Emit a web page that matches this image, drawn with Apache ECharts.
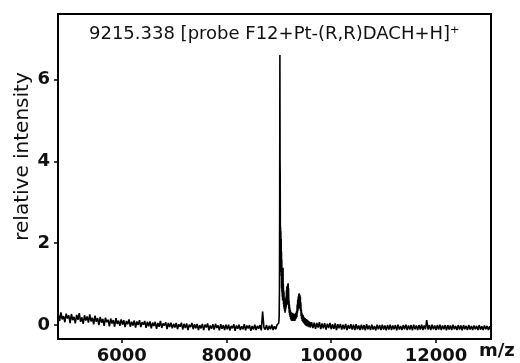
<!DOCTYPE html>
<html>
<head>
<meta charset="utf-8">
<script src="https://cdn.jsdelivr.net/npm/echarts@6/dist/echarts.min.js"></script>
<style>
  html, body { margin: 0; padding: 0; background: #fff; }
  #chart { width: 520px; height: 363px; }
</style>
</head>
<body>
<div id="chart"></div>
<script>
// spectrum, [m/z, relative intensity]
const lowMassNoise = [
  [4790, 0.26], [4815, 0.10], [4840, 0.31], [4865, 0.14], [4890, 0.22], [4915, 0.07], [4940, 0.28], [4965, 0.16],
  [4990, 0.24], [5015, 0.05], [5040, 0.27], [5065, 0.12], [5090, 0.20], [5115, 0.04], [5140, 0.25], [5165, 0.13],
  [5190, 0.29], [5215, 0.08], [5240, 0.19], [5265, 0.03], [5290, 0.24], [5315, 0.11], [5340, 0.21], [5365, 0.06],
  [5390, 0.26], [5415, 0.09], [5440, 0.18], [5465, 0.02], [5490, 0.23], [5515, 0.08], [5540, 0.17], [5565, 0.00],
  [5590, 0.20], [5615, 0.06], [5640, 0.15], [5665, -0.02], [5690, 0.18], [5715, 0.07], [5740, 0.13], [5765, -0.03],
  [5790, 0.16], [5815, 0.04], [5840, 0.12], [5865, -0.04], [5890, 0.17], [5915, 0.03], [5940, 0.11], [5965, -0.02],
  [5990, 0.14], [6015, 0.01], [6040, 0.12], [6065, -0.05], [6090, 0.10], [6115, 0.02], [6140, 0.14], [6165, -0.04],
  [6190, 0.08], [6215, -0.01], [6240, 0.11], [6265, -0.06], [6290, 0.09], [6315, 0.00], [6340, 0.12], [6365, -0.05],
  [6390, 0.07], [6415, 0.01], [6440, 0.10], [6465, -0.07], [6490, 0.08], [6515, -0.03], [6540, 0.09], [6565, -0.08],
  [6590, 0.06], [6615, -0.02], [6640, 0.08], [6665, -0.09], [6690, 0.05], [6715, -0.04], [6740, 0.10], [6765, -0.07],
  [6790, 0.04], [6815, -0.01], [6840, 0.07], [6865, -0.10], [6890, 0.05], [6915, -0.05], [6940, 0.06], [6965, -0.08],
  [6990, 0.03], [7015, -0.06], [7040, 0.05], [7065, -0.10], [7090, 0.02], [7115, -0.04], [7140, 0.06], [7165, -0.11],
  [7190, 0.03], [7215, -0.07], [7240, 0.04], [7265, -0.12], [7290, 0.01], [7315, -0.05], [7340, 0.05], [7365, -0.10],
  [7390, 0.02], [7415, -0.08], [7440, 0.03], [7465, -0.12], [7490, 0.00], [7515, -0.08], [7540, 0.03], [7565, -0.12],
  [7590, 0.01], [7615, -0.06], [7640, 0.04], [7665, -0.13], [7690, -0.01], [7715, -0.09], [7740, 0.02], [7765, -0.11],
  [7790, 0.03], [7815, -0.07], [7840, -0.01], [7865, -0.13], [7890, 0.02], [7915, -0.09], [7940, 0.00], [7965, -0.12],
  [7990, 0.01], [8015, -0.10], [8040, 0.01], [8065, -0.13], [8090, -0.02], [8115, -0.08], [8140, 0.02], [8165, -0.14],
  [8190, -0.01], [8215, -0.09], [8240, 0.01], [8265, -0.12], [8290, -0.03], [8315, -0.10], [8340, 0.02], [8365, -0.13],
  [8390, -0.01], [8415, -0.08], [8440, 0.00], [8465, -0.14], [8490, -0.02], [8515, -0.11], [8540, 0.01], [8565, -0.12],
  [8590, -0.02], [8615, -0.09], [8640, 0.00], [8665, -0.13], [8690, 0.33], [8715, -0.06], [8740, -0.11], [8765, 0.00],
  [8790, -0.12], [8815, -0.02], [8840, -0.10], [8865, 0.01], [8890, -0.12], [8915, -0.03], [8940, -0.10], [8965, 0.00]
]

const mainPeak = [
  [8988, -0.03], [8998, 0.05], [9006, 0.2], [9012, 0.9], [9016, 3.0], [9020, 6.6], [9023, 4.0], [9026, 3.6],
  [9029, 2.0], [9032, 2.4], [9035, 1.5], [9038, 2.3], [9041, 1.3], [9044, 2.1], [9047, 1.2], [9050, 1.8],
  [9053, 0.9], [9056, 1.6], [9059, 0.8], [9062, 1.3], [9065, 0.7], [9068, 1.2], [9071, 0.6], [9074, 1.1],
  [9077, 0.7], [9080, 1.4], [9083, 0.65], [9086, 1.0], [9089, 0.5], [9092, 0.85], [9095, 0.45], [9098, 0.8],
  [9102, 0.4], [9106, 0.65], [9110, 0.35], [9114, 0.6], [9118, 0.3], [9122, 0.55], [9126, 0.35], [9130, 0.6],
  [9134, 0.4], [9138, 0.7], [9142, 0.45], [9146, 0.85], [9150, 0.5], [9154, 0.95], [9158, 0.55], [9162, 0.9],
  [9166, 0.5], [9170, 1.0], [9174, 0.6], [9178, 1.02], [9182, 0.55], [9186, 0.9], [9190, 0.4], [9194, 0.6],
  [9198, 0.3], [9202, 0.5], [9206, 0.25], [9210, 0.42], [9215, 0.2], [9220, 0.36], [9225, 0.15], [9230, 0.32],
  [9235, 0.12], [9240, 0.3], [9245, 0.1], [9250, 0.28], [9255, 0.12], [9260, 0.3], [9265, 0.1], [9270, 0.26],
  [9275, 0.12], [9280, 0.28], [9285, 0.1], [9290, 0.25], [9295, 0.12], [9300, 0.27], [9305, 0.1], [9310, 0.24],
  [9315, 0.14], [9320, 0.3], [9325, 0.15], [9330, 0.28], [9335, 0.18], [9340, 0.35], [9345, 0.2], [9350, 0.5],
  [9355, 0.3], [9360, 0.62], [9365, 0.35], [9370, 0.7], [9375, 0.4], [9380, 0.76], [9385, 0.42], [9390, 0.78],
  [9395, 0.45], [9400, 0.74], [9405, 0.4], [9410, 0.7], [9415, 0.35], [9420, 0.55], [9425, 0.22], [9430, 0.38],
  [9435, 0.15], [9440, 0.3], [9446, 0.1], [9452, 0.26], [9458, 0.08], [9464, 0.24], [9470, 0.06], [9476, 0.2],
  [9482, 0.04], [9488, 0.18], [9494, 0.02], [9500, 0.17], [9508, 0.0], [9516, 0.15], [9524, -0.02], [9532, 0.14],
  [9540, -0.03], [9550, 0.12], [9560, -0.04], [9570, 0.1], [9580, -0.05], [9590, 0.08], [9600, -0.06]
]

const highMassNoise = [
  [9625, 0.07], [9650, -0.07], [9675, 0.06], [9700, -0.09], [9725, 0.05], [9750, -0.06], [9775, 0.07], [9800, -0.10],
  [9825, 0.04], [9850, -0.08], [9875, 0.05], [9900, -0.11], [9925, 0.03], [9950, -0.07], [9975, 0.05], [10000, -0.10],
  [10025, 0.02], [10050, -0.09], [10075, 0.04], [10100, -0.12], [10125, 0.02], [10150, -0.08], [10175, 0.03], [10200, -0.11],
  [10225, 0.01], [10250, -0.10], [10275, 0.03], [10300, -0.12], [10325, 0.00], [10350, -0.09], [10375, 0.02], [10400, -0.11],
  [10425, 0.01], [10450, -0.12], [10475, 0.02], [10500, -0.10], [10525, -0.01], [10550, -0.12], [10575, 0.01], [10600, -0.11],
  [10625, 0.00], [10650, -0.13], [10675, 0.02], [10700, -0.10], [10725, -0.01], [10750, -0.12], [10775, 0.01], [10800, -0.11],
  [10825, -0.02], [10850, -0.13], [10875, 0.01], [10900, -0.10], [10925, 0.00], [10950, -0.12], [10975, 0.01], [11000, -0.11],
  [11025, -0.01], [11050, -0.13], [11075, 0.00], [11100, -0.11], [11125, 0.01], [11150, -0.12], [11175, -0.01], [11200, -0.10],
  [11225, 0.00], [11250, -0.13], [11275, 0.01], [11300, -0.11], [11325, -0.02], [11350, -0.12], [11375, 0.00], [11400, -0.10],
  [11425, 0.01], [11450, -0.12], [11475, -0.01], [11500, -0.11], [11525, 0.00], [11550, -0.13], [11575, 0.01], [11600, -0.10],
  [11625, -0.01], [11650, -0.12], [11675, 0.00], [11700, -0.11], [11725, 0.01], [11750, -0.12], [11775, -0.01], [11800, -0.10],
  [11822, 0.12], [11850, -0.11], [11875, 0.00], [11900, -0.12], [11925, 0.01], [11950, -0.10], [11975, -0.01], [12000, -0.12],
  [12025, 0.00], [12050, -0.11], [12075, 0.01], [12100, -0.12], [12125, -0.01], [12150, -0.10], [12175, 0.00], [12200, -0.13],
  [12225, 0.00], [12250, -0.11], [12275, -0.01], [12300, -0.12], [12325, 0.01], [12350, -0.10], [12375, -0.02], [12400, -0.12],
  [12425, 0.00], [12450, -0.11], [12475, -0.01], [12500, -0.13], [12525, 0.00], [12550, -0.10], [12575, -0.02], [12600, -0.12],
  [12625, 0.00], [12650, -0.11], [12675, -0.02], [12700, -0.12], [12725, -0.01], [12750, -0.10], [12775, -0.02], [12800, -0.12],
  [12825, 0.00], [12850, -0.11], [12875, -0.03], [12900, -0.12], [12925, -0.01], [12950, -0.10], [12975, -0.02], [13000, -0.12],
  [13025, -0.03], [13045, -0.10]
]

const xTickLabels = [6000, 8000, 10000, 12000]
const yTickLabels = [0, 2, 4, 6]

const chart = echarts.init(document.getElementById('chart'))

const FONT = 'DejaVu Sans'

chart.setOption({
  animation: false,
  backgroundColor: '#fff',
  title: {
    text: '9215.338 [probe F12+Pt-(R,R)DACH+H]⁺',
    left: 89,
    top: 25,
    padding: 0,
    textStyle: { fontFamily: FONT, fontSize: 18, fontWeight: 'normal', color: '#111' },
  },
  grid: {
    left: 58, right: 29, top: 14, bottom: 24,
    outerBoundsMode: 'none',
    show: true,
    borderColor: '#000',
    borderWidth: 2,
  },
  xAxis: {
    type: 'value',
    min: 4784,
    max: 13050,
    splitNumber: 4,
    name: 'm/z',
    nameLocation: 'end',
    nameGap: -12,
    nameMoveOverlap: false,
    nameTextStyle: {
      fontFamily: FONT, fontSize: 18, fontWeight: 'bold', color: '#111',
      align: 'left', verticalAlign: 'top', padding: [3, 0, 0, 0],
    },
    splitLine: { show: false },
    axisLine: { onZero: false, lineStyle: { color: '#000', width: 2 } },
    axisTick: { length: 4, lineStyle: { color: '#000', width: 1.5 } },
    axisLabel: {
      margin: 8,
      fontFamily: FONT, fontSize: 18, fontWeight: 'bold', color: '#111',
      showMinLabel: false, showMaxLabel: false,
      formatter: v => (xTickLabels.includes(v) ? String(v) : ''),
    },
  },
  yAxis: {
    type: 'value',
    min: -0.34,
    max: 7.6,
    splitNumber: 4,
    name: 'relative intensity',
    nameLocation: 'middle',
    nameGap: 25,
    nameMoveOverlap: false,
    nameRotate: 90,
    nameTextStyle: { fontFamily: FONT, fontSize: 20, color: '#111', padding: [0, 0, 0, 40] },
    splitLine: { show: false },
    axisLine: { lineStyle: { color: '#000', width: 2 } },
    axisTick: { length: 4, lineStyle: { color: '#000', width: 1.5 } },
    axisLabel: {
      margin: 8,
      fontFamily: FONT, fontSize: 18, fontWeight: 'bold', color: '#111',
      showMinLabel: false, showMaxLabel: false,
      formatter: v => (yTickLabels.includes(v) ? String(v) : ''),
    },
  },
  series: [{
    type: 'line',
    data: lowMassNoise.concat(mainPeak, highMassNoise),
    showSymbol: false,
    lineStyle: { color: '#000', width: 1.6 },
  }],
})
</script>
</body>
</html>
